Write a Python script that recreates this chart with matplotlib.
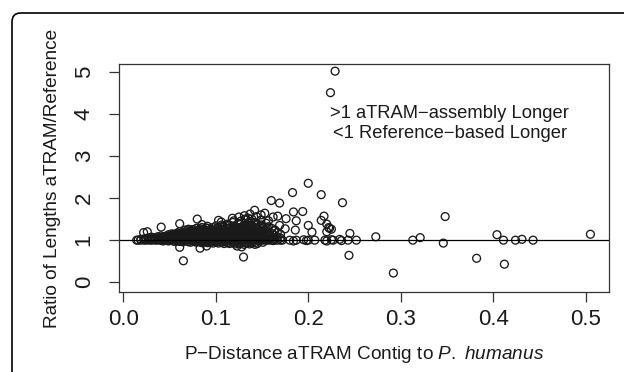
import matplotlib
matplotlib.use("Agg")
from matplotlib import pyplot as plt
from matplotlib.patches import FancyBboxPatch

plt.rcParams['font.family'] = ['Liberation Sans', 'DejaVu Sans']
plt.rcParams['mathtext.fontset'] = 'custom'
plt.rcParams['mathtext.rm'] = 'Liberation Sans'
plt.rcParams['mathtext.it'] = 'Liberation Sans:italic'

##### Data
# dense core: one x per column, the ratios stacked in that column
core_x = [0.016, 0.019, 0.0225, 0.025, 0.0285, 0.031, 0.0345, 0.037, 0.0405, 0.043,
          0.0465, 0.049, 0.0525, 0.055, 0.0585, 0.061, 0.0645, 0.067, 0.0705, 0.073,
          0.0765, 0.079, 0.0825, 0.085, 0.0885, 0.091, 0.0945, 0.097, 0.1005, 0.103,
          0.1065, 0.109, 0.1125, 0.115, 0.1185, 0.121, 0.1245, 0.127, 0.1305, 0.133,
          0.1365, 0.139, 0.1425, 0.145, 0.1485, 0.151, 0.1545, 0.157, 0.1605, 0.163,
          0.1665, 0.170]
core_y = [[1.0], [1.0, 1.02], [1.0, 1.03], [1.0, 1.04], [1.0, 1.02, 1.06],
          [1.0, 1.03, 1.07], [1.0, 1.05, 1.02], [1.0, 1.04, 1.08], [1.0, 1.02, 1.06, 1.1],
          [1.0, 1.03, 1.08, 0.98], [1.0, 1.05, 1.1, 1.02], [1.0, 1.04, 1.08, 1.13, 0.98],
          [1.0, 1.02, 1.06, 1.11, 1.15], [1.0, 1.04, 1.09, 1.14, 0.97],
          [1.0, 1.03, 1.07, 1.12, 1.17, 0.98], [1.0, 1.05, 1.1, 1.15, 1.2, 0.97],
          [1.0, 1.02, 1.07, 1.12, 1.18, 0.96], [1.0, 1.04, 1.09, 1.14, 1.2, 1.24],
          [1.0, 1.03, 1.08, 1.13, 1.19, 0.96, 1.26], [1.0, 1.05, 1.1, 1.16, 1.22, 0.95],
          [1.0, 1.02, 1.07, 1.12, 1.18, 1.25, 0.97], [1.0, 1.04, 1.09, 1.15, 1.21, 1.28, 0.95],
          [1.0, 1.03, 1.08, 1.13, 1.19, 1.25, 0.96], [1.0, 1.05, 1.1, 1.16, 1.23, 1.3, 0.94],
          [1.0, 1.02, 1.07, 1.12, 1.18, 1.24, 0.96], [1.0, 1.04, 1.09, 1.15, 1.21, 1.28, 1.33, 0.94],
          [1.0, 1.03, 1.08, 1.13, 1.19, 1.26, 0.95], [1.0, 1.05, 1.1, 1.16, 1.22, 1.3, 0.93],
          [1.0, 1.02, 1.07, 1.12, 1.18, 1.25, 1.34, 0.95], [1.0, 1.04, 1.09, 1.15, 1.21, 1.28, 0.93],
          [1.0, 1.03, 1.08, 1.13, 1.19, 1.26, 1.36, 0.95], [1.0, 1.05, 1.1, 1.16, 1.23, 1.31, 0.92],
          [1.0, 1.02, 1.07, 1.12, 1.18, 1.25, 1.38, 0.94], [1.0, 1.04, 1.09, 1.15, 1.21, 1.29, 1.35, 0.92],
          [1.0, 1.03, 1.08, 1.13, 1.2, 1.27, 1.42, 0.94], [1.0, 1.05, 1.1, 1.16, 1.23, 1.32, 0.91],
          [1.0, 1.02, 1.07, 1.12, 1.18, 1.26, 1.4, 0.93], [1.0, 1.04, 1.09, 1.15, 1.22, 1.3, 1.45, 0.92],
          [1.0, 1.03, 1.08, 1.14, 1.2, 1.28, 1.36, 0.9], [1.0, 1.05, 1.1, 1.17, 1.25, 1.33, 1.48, 0.93],
          [1.0, 1.02, 1.07, 1.13, 1.2, 1.29, 1.4, 0.91], [1.0, 1.04, 1.1, 1.16, 1.24, 1.35, 1.5, 0.93],
          [1.0, 1.03, 1.08, 1.14, 1.21, 1.3, 1.42, 0.9], [1.0, 1.05, 1.11, 1.18, 1.27, 1.38, 0.92],
          [1.0, 1.02, 1.08, 1.15, 1.23, 1.33, 1.47], [1.0, 1.04, 1.1, 1.2, 1.3, 0.95],
          [1.0, 1.06, 1.14, 1.25, 1.4], [1.0, 1.03, 1.1, 1.19, 1.32], [1.0, 1.07, 1.16, 1.28],
          [1.0, 1.04, 1.12, 1.22], [1.0, 1.08, 1.18], [1.0, 1.05, 1.14]]

# second pass over the core, columns in between the first ones
fill_x = [0.0395, 0.0475, 0.0535, 0.0595, 0.0655, 0.0715, 0.0775, 0.0835, 0.0895,
          0.0955, 0.1015, 0.1075, 0.1135, 0.1195, 0.1255, 0.1315, 0.1375, 0.1435,
          0.1495, 0.1555]
fill_y = [[1.01, 1.045], [1.015, 1.065, 1.09], [1.035, 1.085, 1.125],
          [1.015, 1.055, 1.095, 1.145], [1.035, 1.075, 1.155, 0.985],
          [1.015, 1.065, 1.11, 1.17, 1.21], [1.045, 1.095, 1.14, 1.2, 0.975],
          [1.015, 1.06, 1.115, 1.165, 1.22, 1.27], [1.035, 1.085, 1.14, 1.2, 0.97, 1.29],
          [1.015, 1.065, 1.12, 1.175, 1.24, 0.96], [1.045, 1.095, 1.15, 1.21, 1.29, 0.97],
          [1.015, 1.07, 1.125, 1.19, 1.25, 1.33, 0.96],
          [1.04, 1.095, 1.15, 1.21, 1.28, 1.36, 0.95],
          [1.015, 1.06, 1.115, 1.175, 1.24, 1.32, 0.96, 1.46],
          [1.045, 1.1, 1.16, 1.22, 1.3, 1.38, 0.95],
          [1.015, 1.065, 1.125, 1.19, 1.26, 1.35, 0.94, 1.5],
          [1.04, 1.095, 1.155, 1.23, 1.32, 1.44, 0.96],
          [1.015, 1.07, 1.13, 1.2, 1.28, 1.37, 0.95],
          [1.045, 1.12, 1.21, 1.36], [1.02, 1.09, 1.18, 1.3]]

# contigs that sit right on ratio 1 past the core
flat_x = [0.146, 0.153, 0.162, 0.172, 0.180, 0.184, 0.187, 0.195, 0.198, 0.200,
          0.207, 0.218, 0.220, 0.225, 0.227, 0.234, 0.236, 0.243, 0.252, 0.0145]
flat_y = [1.0, 1.01, 0.99, 1.0, 1.0, 0.98, 1.0, 1.01, 0.99, 1.0,
          1.0, 1.0, 0.98, 1.01, 1.0, 1.02, 0.99, 1.0, 1.0, 1.0]

# scattered contigs
spread_x = [0.229, 0.224, 0.200, 0.183, 0.214, 0.160, 0.169, 0.237, 0.348, 0.184,
            0.194, 0.217, 0.214, 0.220, 0.223, 0.200, 0.204, 0.186, 0.176, 0.187,
            0.142, 0.153, 0.167, 0.157, 0.169, 0.175, 0.164, 0.222, 0.225, 0.220,
            0.245, 0.162, 0.118, 0.125, 0.131, 0.137, 0.144, 0.149, 0.135,
            0.273, 0.313, 0.321, 0.346, 0.404, 0.411, 0.424, 0.431, 0.443, 0.505,
            0.382, 0.412, 0.292, 0.244,
            0.065, 0.130, 0.022, 0.026, 0.041, 0.061, 0.080, 0.085, 0.103, 0.106,
            0.074, 0.061, 0.083, 0.090, 0.123, 0.128]
spread_y = [5.01, 4.50, 2.35, 2.13, 2.08, 1.94, 1.88, 1.89, 1.56, 1.67,
            1.68, 1.57, 1.47, 1.38, 1.28, 1.35, 1.19, 1.24, 1.51, 1.46,
            1.71, 1.64, 1.57, 1.46, 1.35, 1.27, 1.24, 1.30, 1.26, 1.20,
            1.16, 1.55, 1.52, 1.55, 1.58, 1.62, 1.56, 1.60, 1.52,
            1.08, 1.00, 1.06, 0.93, 1.13, 1.00, 1.00, 1.02, 1.00, 1.14,
            0.57, 0.43, 0.22, 0.64,
            0.51, 0.60, 1.18, 1.20, 1.31, 1.39, 1.50, 1.37, 1.47, 1.43,
            1.25, 0.83, 0.81, 0.86, 0.86, 0.84]

xs = ([x for x, col in zip(core_x, core_y) for _ in col]
      + [x for x, col in zip(fill_x, fill_y) for _ in col] + flat_x + spread_x)
ys = ([y for col in core_y for y in col]
      + [y for col in fill_y for y in col] + flat_y + spread_y)

##### Plot
fig = plt.figure(figsize=(6.24, 3.72), dpi=100)

# rounded journal frame
frame = FancyBboxPatch((12 / 624, -0.2), 1.2, (372 - 13) / 372 + 0.2,
                       boxstyle="round,pad=0,rounding_size=0.014",
                       transform=fig.transFigure, fill=False,
                       edgecolor='black', linewidth=1.2, mutation_aspect=624 / 372)
fig.patches.append(frame)

ax = fig.add_axes([119 / 624, 1 - 292 / 372, 490 / 624, 228 / 372])
ax.scatter(xs, ys, s=32, facecolors='none', edgecolors='#1a1a1a', linewidths=0.95)
ax.axhline(1, color='black', linewidth=0.9)

ax.set_xlim(-0.0046, 0.5251)
ax.set_ylim(-0.23, 5.18)
ax.set_xticks([0.0, 0.1, 0.2, 0.3, 0.4, 0.5])
ax.set_xticklabels(['0.0', '0.1', '0.2', '0.3', '0.4', '0.5'])
ax.set_yticks([0, 1, 2, 3, 4, 5])

for s in ax.spines.values():
    s.set_color('#333333')
    s.set_linewidth(0.9)
ax.tick_params(direction='out', length=7.5, width=0.9, color='#333333',
               labelsize=16, labelcolor='#1a1a1a')
ax.tick_params(axis='x', pad=5)
ax.tick_params(axis='y', pad=10)
for lab in ax.get_yticklabels():
    lab.set_rotation(90)
    lab.set_va('center')

ax.set_xlabel("P\u2212Distance aTRAM Contig to $\\mathit{P.}$ $\\mathit{humanus}$",
              fontsize=13.7, color='#1a1a1a', labelpad=10)
ax.set_ylabel("Ratio of Lengths aTRAM/Reference", fontsize=13.7,
              color='#1a1a1a', labelpad=9)

ax.text(0.353, 4.0, ">1 aTRAM\u2212assembly Longer", ha='center', va='center',
        fontsize=13.2, color='#1a1a1a')
ax.text(0.353, 3.53, "<1 Reference\u2212based Longer", ha='center', va='center',
        fontsize=13.2, color='#1a1a1a')

plt.savefig('out.png', dpi=100)
